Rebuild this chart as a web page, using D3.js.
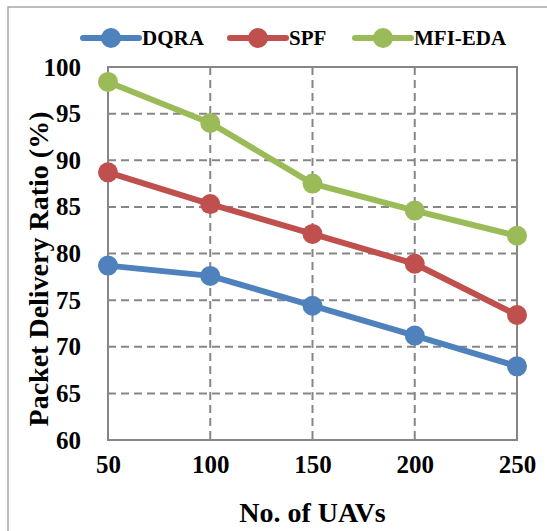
<!DOCTYPE html>
<html>
<head>
<meta charset="utf-8">
<script src="https://cdn.jsdelivr.net/npm/d3@7"></script>
<style>
  body { margin: 0; background: #fff; }
  svg { display: block; }
</style>
</head>
<body>
<svg id="chart" width="547" height="531"></svg>
<script>
// data
const uavs = [50, 100, 150, 200, 250];
const dqra = [78.7, 77.6, 74.4, 71.2, 67.9];
const spf = [88.7, 85.3, 82.1, 78.9, 73.4];
const mfiEda = [98.4, 94.0, 87.5, 84.6, 81.9];
const yTicks = [60, 65, 70, 75, 80, 85, 90, 95, 100];

const series = [
  { name: 'DQRA', values: dqra, color: '#4f81bd' },
  { name: 'SPF', values: spf, color: '#c0504d' },
  { name: 'MFI-EDA', values: mfiEda, color: '#9bbb59' }
];

const font = "'Times New Roman', Times, 'Liberation Serif', serif";
const svg = d3.select('#chart');

// outer chart border (cropped on right/bottom)
svg.append('rect')
  .attr('x', 8).attr('y', 7)
  .attr('width', 600).attr('height', 600)
  .attr('fill', 'none')
  .attr('stroke', '#a6a6a6')
  .attr('stroke-width', 1.5);

const margin = { left: 108, right: 517, top: 67, bottom: 440 };

const x = d3.scaleLinear()
  .domain([50, 250])
  .range([margin.left, margin.right]);

const y = d3.scaleLinear()
  .domain([60, 100])
  .range([margin.bottom, margin.top]);

// dashed gridlines
svg.append('g')
  .selectAll('line')
  .data(yTicks.filter(d => d !== 60 && d !== 100))
  .enter().append('line')
  .attr('x1', margin.left).attr('x2', margin.right)
  .attr('y1', d => y(d)).attr('y2', d => y(d))
  .attr('stroke', '#868686')
  .attr('stroke-width', 2)
  .attr('stroke-dasharray', '8,5');

svg.append('g')
  .selectAll('line')
  .data(uavs.slice(1, -1))
  .enter().append('line')
  .attr('x1', d => x(d)).attr('x2', d => x(d))
  .attr('y1', margin.top).attr('y2', margin.bottom)
  .attr('stroke', '#868686')
  .attr('stroke-width', 2)
  .attr('stroke-dasharray', '8,5');

// plot frame
svg.append('rect')
  .attr('x', margin.left).attr('y', margin.top)
  .attr('width', margin.right - margin.left)
  .attr('height', margin.bottom - margin.top)
  .attr('fill', 'none')
  .attr('stroke', '#868686')
  .attr('stroke-width', 2);

// axes (labels only)
const yAxis = svg.append('g')
  .attr('transform', `translate(${margin.left},0)`)
  .call(d3.axisLeft(y).tickValues(yTicks).tickSize(0).tickPadding(27));
yAxis.select('.domain').remove();
yAxis.attr('font-family', font);
yAxis.selectAll('text')
  .attr('font-weight', 'bold')
  .attr('font-size', 25)
  .attr('fill', '#000');

const xAxis = svg.append('g')
  .attr('transform', `translate(0,${margin.bottom})`)
  .call(d3.axisBottom(x).tickValues(uavs).tickSize(0).tickPadding(15));
xAxis.select('.domain').remove();
xAxis.attr('font-family', font);
xAxis.selectAll('text')
  .attr('font-weight', 'bold')
  .attr('font-size', 25)
  .attr('fill', '#000');

// lines + markers
const line = d3.line()
  .x((_, i) => x(uavs[i]))
  .y(d => y(d));

series.forEach(s => {
  svg.append('path')
    .datum(s.values)
    .attr('fill', 'none')
    .attr('stroke', s.color)
    .attr('stroke-width', 6)
    .attr('stroke-linejoin', 'round')
    .attr('d', line);

  svg.append('g')
    .selectAll('circle')
    .data(s.values)
    .enter().append('circle')
    .attr('cx', (_, i) => x(uavs[i]))
    .attr('cy', d => y(d))
    .attr('r', 10)
    .attr('fill', s.color);
});

// legend
const legendX = [83, 230, 355];
series.forEach((s, i) => {
  const g = svg.append('g').attr('transform', `translate(${legendX[i]},38)`);
  g.append('line')
    .attr('x1', 0).attr('x2', 56)
    .attr('y1', 0).attr('y2', 0)
    .attr('stroke', s.color)
    .attr('stroke-width', 6)
    .attr('stroke-linecap', 'round');
  g.append('circle')
    .attr('cx', 28).attr('cy', 0).attr('r', 10)
    .attr('fill', s.color);
  g.append('text')
    .attr('x', 59).attr('y', 7)
    .attr('font-family', font)
    .attr('font-weight', 'bold')
    .attr('font-size', 21)
    .text(s.name);
});

// axis titles
svg.append('text')
  .attr('x', (margin.left + margin.right) / 2)
  .attr('y', 522)
  .attr('text-anchor', 'middle')
  .attr('font-family', font)
  .attr('font-weight', 'bold')
  .attr('font-size', 28)
  .text('No. of UAVs');

svg.append('text')
  .attr('transform', 'rotate(-90)')
  .attr('x', -269)
  .attr('y', 48)
  .attr('text-anchor', 'middle')
  .attr('font-family', font)
  .attr('font-weight', 'bold')
  .attr('font-size', 28)
  .text('Packet Delivery Ratio (%)');
</script>
</body>
</html>
